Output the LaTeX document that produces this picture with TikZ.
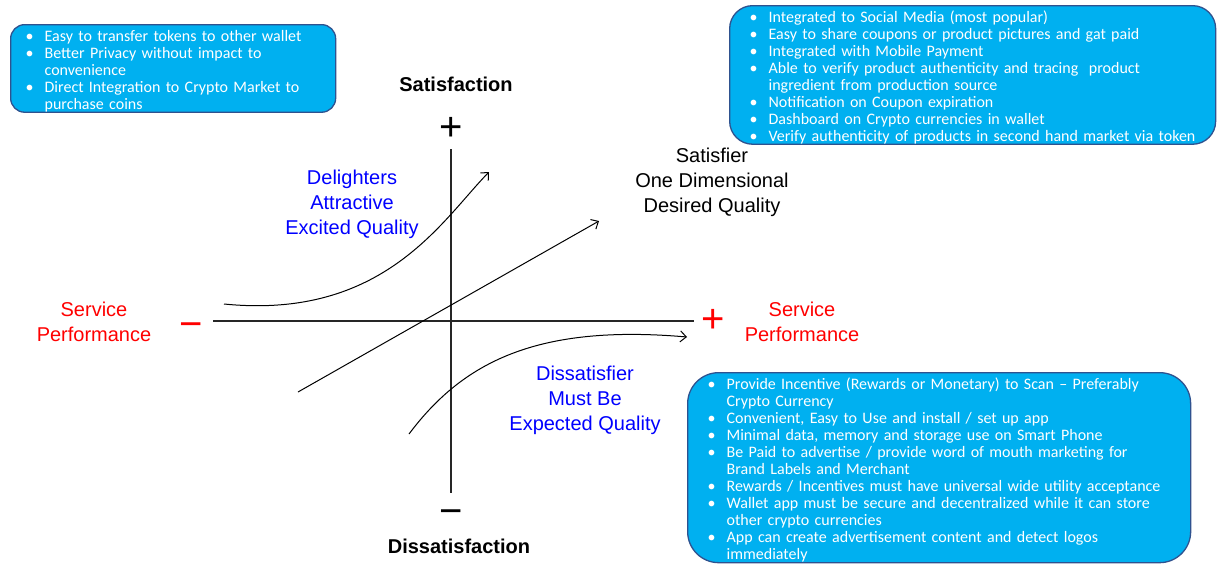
\documentclass[tikz,border=0pt]{standalone}
\usepackage{fontspec}
\setmainfont{Liberation Sans}
\newfontfamily\calib{Carlito}
\usetikzlibrary{arrows.meta,positioning}

\definecolor{boxblue}{RGB}{0,176,240}
\definecolor{boxline}{RGB}{47,82,143}
\definecolor{qblue}{RGB}{0,0,255}

% bullet line and its continuation line
\newcommand{\itm}[1]{\par\noindent\makebox[19pt][l]{\textbullet}\mbox{#1}}
\newcommand{\nxt}[1]{\par\noindent\hspace*{19pt}\mbox{#1}}

\begin{document}
\begin{tikzpicture}[x=1pt,y=-1pt,>={Straight Barb[length=6pt,width=11pt]},
  axis/.style={draw=black!85,line width=2pt},
  curve/.style={->,draw=black,line width=1pt},
  quad node/.style={align=center,inner sep=0pt,font=\fontsize{20}{25}\selectfont},
  perf node/.style={quad node,text=red},
  head node/.style={inner sep=0pt,font=\fontsize{20}{24}\selectfont\bfseries},
  sign node/.style={inner sep=0pt,font=\fontsize{40}{40}\selectfont},
  box node/.style={rectangle,rounded corners=#1,fill=boxblue,draw=boxline,line width=1.3pt,
    text=white,anchor=north west,align=left,inner ysep=0pt,
    font=\calib\fontsize{16}{17}\selectfont}]

  \useasboundingbox (0,0) rectangle (1217,571);

  % axes
  \coordinate (l) at (213,321);
  \coordinate (r) at (694,321);
  \coordinate (t) at (451,149);
  \coordinate (b) at (451,493);
  \draw[axis] (l) -- (r);
  \draw[axis] (t) -- (b);

  \node[sign node] (pt) at (451,129) {+};
  \node[sign node] (mb) at (451,517) {−};
  \node[sign node,text=red] (ml) at (191,330) {−};
  \node[sign node,text=red] (pr) at (713,321) {+};

  \node[head node] (sat) [above of=pt,node distance=45pt,xshift=5pt] {Satisfaction};
  \node[head node] (dsat) [below of=mb,node distance=29pt,xshift=8pt] {Dissatisfaction};
  \node[perf node] (spl) at (94,322) {Service\\Performance};
  \node[perf node] (spr) at (802,322) {Service\\Performance};

  % quality curves
  \coordinate (d1) at (224,304);
  \coordinate (d2) at (489,172);
  \coordinate (o1) at (298,392);
  \coordinate (o2) at (599,221);
  \coordinate (m1) at (409,434);
  \coordinate (m2) at (687,337);
  \draw[curve] (d1) .. controls (384,320) and (442,220) .. (d2);
  \draw[curve] (o1) -- (o2);
  \draw[curve] (m1) .. controls (463,362) and (537,324) .. (m2);

  \node[quad node,text=qblue] (del) at (352,204) {Delighters\\Attractive\\Excited Quality};
  \node[quad node] (one) at (712,182) {Satisfier\\One Dimensional\\Desired Quality};
  \node[quad node,text=qblue] (must) at (585,400) {Dissatisfier\\Must Be\\Expected Quality};

  % feature lists
  \node[box node=14pt,minimum width=325pt,minimum height=87pt,inner xsep=15pt,text width=295pt]
    (b1) at (10,24) {%
    \itm{Easy to transfer tokens to other wallet}
    \itm{Better Privacy without impact to}
    \nxt{convenience}
    \itm{Direct Integration to Crypto Market to}
    \nxt{purchase coins}};

  \node[box node=23pt,minimum width=486pt,minimum height=138pt,inner xsep=20pt,text width=446pt]
    (b2) at (729,5) {%
    \itm{Integrated to Social Media (most popular)}
    \itm{Easy to share coupons or product pictures and gat paid}
    \itm{Integrated with Mobile Payment}
    \itm{Able to verify product authenticity and tracing\ \ product}
    \nxt{ingredient from production source}
    \itm{Notification on Coupon expiration}
    \itm{Dashboard on Crypto currencies in wallet}
    \itm{Verify authenticity of products in second hand market via token}};

  \node[box node=31pt,minimum width=503pt,minimum height=190pt,inner xsep=20pt,text width=463pt]
    (b3) at (687,372) {%
    \itm{Provide Incentive (Rewards or Monetary) to Scan – Preferably}
    \nxt{Crypto Currency}
    \itm{Convenient, Easy to Use and install / set up app}
    \itm{Minimal data, memory and storage use on Smart Phone}
    \itm{Be Paid to advertise / provide word of mouth marketing for}
    \nxt{Brand Labels and Merchant}
    \itm{Rewards / Incentives must have universal wide utility acceptance}
    \itm{Wallet app must be secure and decentralized while it can store}
    \nxt{other crypto currencies}
    \itm{App can create advertisement content and detect logos}
    \nxt{immediately}};

\end{tikzpicture}
\end{document}
